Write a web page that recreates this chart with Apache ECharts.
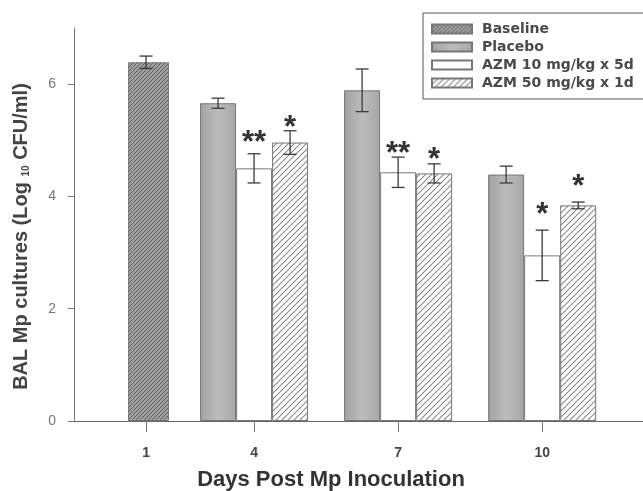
<!DOCTYPE html>
<html>
<head>
<meta charset="utf-8">
<script src="https://cdn.jsdelivr.net/npm/echarts@6/dist/echarts.min.js"></script>
<style>
  html, body { margin: 0; padding: 0; background: #fff; }
  #container { width: 643px; height: 491px; }
</style>
</head>
<body>
<div id="container"></div>
<script>
// days on the x axis and the four groups
var days = ["1", "4", "7", "10"];
var seriesNames = ["Baseline", "Placebo", "AZM 10 mg/kg x 5d", "AZM 50 mg/kg x 1d"];

// log10 CFU/ml, one value per day (null = not measured)
var baseline = [6.39, null, null, null];
var placebo = [null, 5.66, 5.89, 4.39];
var azm10 = [null, 4.50, 4.43, 2.95];
var azm50 = [null, 4.96, 4.41, 3.84];

// error bar half widths
var baselineErr = [0.11, null, null, null];
var placeboErr = [null, 0.09, 0.38, 0.15];
var azm10Err = [null, 0.26, 0.27, 0.45];
var azm50Err = [null, 0.21, 0.17, 0.06];

// significance marks and the height they sit at
var azm10Sig = [null, "**", "**", "*"];
var azm50Sig = [null, "*", "*", "*"];
var azm10SigY = [null, 5.06, 4.88, 3.79];
var azm50SigY = [null, 5.33, 4.77, 4.28];

var yTicks = [0, 2, 4, 6];

var allValues = [baseline, placebo, azm10, azm50];
var allErr = [baselineErr, placeboErr, azm10Err, azm50Err];

// place bars side by side inside each day, one empty slot between days
var slots = allValues.map(function () { return []; });
var dayCenters = [];
var pos = 0;
days.forEach(function (d, i) {
  var first = pos;
  allValues.forEach(function (vals, s) {
    if (vals[i] != null) {
      slots[s][i] = pos;
      pos++;
    }
  });
  dayCenters.push((first + pos - 1) / 2);
  pos++;
});

function hatch(bg, fg, size, lw) {
  var c = document.createElement("canvas");
  c.width = size;
  c.height = size;
  var ctx = c.getContext("2d");
  ctx.fillStyle = bg;
  ctx.fillRect(0, 0, size, size);
  ctx.strokeStyle = fg;
  ctx.lineWidth = lw;
  ctx.beginPath();
  ctx.moveTo(0, size); ctx.lineTo(size, 0);
  ctx.moveTo(-2, 2); ctx.lineTo(2, -2);
  ctx.moveTo(size - 2, size + 2); ctx.lineTo(size + 2, size - 2);
  ctx.stroke();
  return { image: c, repeat: "repeat" };
}

var fills = [
  hatch("#a0a0a0", "#5c5c5c", 4, 1),
  new echarts.graphic.LinearGradient(0, 0, 1, 0, [
    { offset: 0, color: "#a2a2a2" },
    { offset: 0.5, color: "#bcbcbc" },
    { offset: 1, color: "#a6a6a6" }
  ]),
  "#ffffff",
  hatch("#ffffff", "#8a8a8a", 6, 1.1)
];
var widths = [41, 36, 36, 36];

var dom = document.getElementById("container");
var myChart = echarts.init(dom, null, { renderer: "canvas" });

var series = [];
allValues.forEach(function (vals, s) {
  var data = [];
  vals.forEach(function (v, i) {
    if (v != null) data.push([slots[s][i], v]);
  });
  series.push({
    name: seriesNames[s],
    type: "bar",
    barWidth: widths[s],
    barGap: "-100%",
    data: data,
    itemStyle: { color: fills[s], borderColor: "#777", borderWidth: 1 },
    emphasis: { disabled: true },
    z: 2
  });
});

// error bars
var errData = [];
allValues.forEach(function (vals, s) {
  vals.forEach(function (v, i) {
    if (v != null) errData.push([slots[s][i], v - allErr[s][i], v + allErr[s][i]]);
  });
});
series.push({
  type: "custom",
  data: errData,
  z: 5,
  renderItem: function (params, api) {
    var lo = api.coord([api.value(0), api.value(1)]);
    var hi = api.coord([api.value(0), api.value(2)]);
    var cap = 6.5;
    var st = { stroke: "#3a3a3a", lineWidth: 1.3 };
    return {
      type: "group",
      children: [
        { type: "line", shape: { x1: hi[0], y1: hi[1], x2: lo[0], y2: lo[1] }, style: st },
        { type: "line", shape: { x1: hi[0] - cap, y1: hi[1], x2: hi[0] + cap, y2: hi[1] }, style: st },
        { type: "line", shape: { x1: lo[0] - cap, y1: lo[1], x2: lo[0] + cap, y2: lo[1] }, style: st }
      ]
    };
  }
});

// significance stars
var sigData = [];
[[azm10Sig, azm10SigY, 2], [azm50Sig, azm50SigY, 3]].forEach(function (g) {
  g[0].forEach(function (txt, i) {
    if (txt) sigData.push([slots[g[2]][i], g[1][i], txt]);
  });
});
series.push({
  type: "custom",
  data: sigData,
  z: 6,
  renderItem: function (params, api) {
    var p = api.coord([api.value(0), api.value(1)]);
    return {
      type: "text",
      x: p[0],
      y: p[1] + 7,
      style: {
        text: sigData[params.dataIndex][2],
        fill: "#333",
        font: "bold 31px 'Liberation Sans', Arial, sans-serif",
        align: "center",
        verticalAlign: "middle"
      }
    };
  }
});

var option = {
  animation: false,
  grid: { left: 74, right: 0, top: 28, bottom: 70, outerBoundsMode: "none" },
  legend: {
    data: seriesNames,
    orient: "vertical",
    left: 423,
    top: 13,
    itemWidth: 40,
    itemHeight: 9,
    itemGap: 4,
    padding: [9, 10, 9, 8],
    borderColor: "#555",
    borderWidth: 1,
    icon: "rect",
    selectedMode: false,
    textStyle: {
      fontFamily: "DejaVu Sans",
      fontWeight: "bold",
      fontSize: 14,
      color: "#4a4a4a",
      padding: [0, 0, 0, 5]
    }
  },
  xAxis: {
    type: "value",
    min: -2,
    max: 13.8,
    name: "Days Post Mp Inoculation",
    nameLocation: "middle",
    nameGap: 48,
    nameTextStyle: {
      fontFamily: "Liberation Sans",
      fontWeight: "bold",
      fontSize: 22,
      color: "#333",
      padding: [0, 55, 0, 0]
    },
    splitLine: { show: false },
    axisLine: { lineStyle: { color: "#666", width: 1 } },
    axisTick: { customValues: dayCenters, length: 11, lineStyle: { color: "#777" } },
    axisLabel: {
      customValues: dayCenters,
      margin: 25,
      fontFamily: "Liberation Sans",
      fontWeight: "bold",
      fontSize: 14,
      color: "#444",
      formatter: function (v) {
        return days[dayCenters.indexOf(v)];
      }
    }
  },
  yAxis: {
    type: "value",
    min: 0,
    max: 7,
    name: "{b|BAL Mp cultures (Log }{s|10}{b| CFU/ml)}",
    nameLocation: "middle",
    nameGap: 43,
    nameTextStyle: {
      padding: [0, 24, 0, 0],
      rich: {
        b: { fontFamily: "Liberation Sans", fontWeight: "bold", fontSize: 20, color: "#444", lineHeight: 22, verticalAlign: "bottom" },
        s: { fontFamily: "Liberation Sans", fontWeight: "bold", fontSize: 10, color: "#444", lineHeight: 22, verticalAlign: "bottom" }
      }
    },
    splitLine: { show: false },
    axisLine: { show: true, onZero: false, lineStyle: { color: "#777", width: 1 } },
    axisTick: { show: true, customValues: yTicks, length: 6, lineStyle: { color: "#777" } },
    axisLabel: {
      customValues: yTicks,
      margin: 18,
      fontFamily: "Liberation Sans",
      fontSize: 14,
      color: "#777"
    }
  },
  series: series
};

if (option && typeof option === "object") {
  myChart.setOption(option);
}

window.addEventListener("resize", myChart.resize);
</script>
</body>
</html>
